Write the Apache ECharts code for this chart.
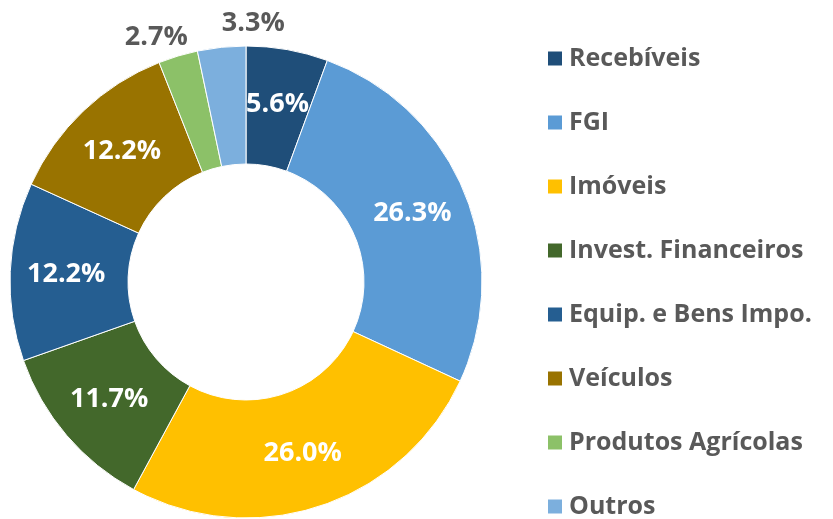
<!DOCTYPE html>
<html>
<head>
<meta charset="utf-8">
<script src="https://cdn.jsdelivr.net/npm/echarts@6/dist/echarts.min.js"></script>
<style>
  html, body { margin: 0; padding: 0; background: #fff; }
  #chart { width: 833px; height: 519px; }
</style>
</head>
<body>
<div id="chart"></div>
<script>
// categorias e participação (%)
const categories = ['Recebíveis', 'FGI', 'Imóveis', 'Invest. Financeiros', 'Equip. e Bens Impo.', 'Veículos', 'Produtos Agrícolas', 'Outros'];
const shares = [5.6, 26.3, 26.0, 11.7, 12.2, 12.2, 2.7, 3.3];
const colors = ['#1F4E79', '#5B9BD5', '#FFC000', '#43682B', '#255E91', '#997300', '#8CC168', '#7CAFDD'];

// fatias pequenas ficam com rótulo de fora
const outsideSlices = ['Produtos Agrícolas', 'Outros'];
// ajuste fino dos rótulos externos
const labelShift = { 'Produtos Agrícolas': [17, -11], 'Outros': [69, -16] };

const font = '"Open Sans", "Noto Sans", sans-serif';

const chart = echarts.init(document.getElementById('chart'));

const seriesData = categories.map((name, i) => {
  const item = { name: name, value: shares[i], itemStyle: { color: colors[i] } };
  if (outsideSlices.includes(name)) {
    item.label = { position: 'outside', color: '#595959' };
    item.labelLine = { show: false, length: 8, length2: 0 };
  }
  return item;
});

const option = {
  backgroundColor: '#fff',
  animation: false,
  legend: {
    orient: 'vertical',
    left: 546,
    top: 46,
    height: 480,
    padding: 0,
    itemWidth: 16,
    itemHeight: 16,
    itemGap: 39,
    icon: 'rect',
    data: categories,
    textStyle: {
      fontFamily: font,
      fontSize: 25,
      fontWeight: 'bold',
      color: '#595959',
      lineHeight: 24,
      padding: [0, 0, 0, 1]
    }
  },
  series: [
    {
      type: 'pie',
      center: [246, 282],
      radius: [118, 236],
      startAngle: 90,
      clockwise: true,
      avoidLabelOverlap: false,
      itemStyle: { borderColor: '#fff', borderWidth: 1 },
      label: {
        show: true,
        position: 'inside',
        fontFamily: font,
        fontSize: 27,
        fontWeight: 'bold',
        color: '#fff',
        formatter: p => p.value.toFixed(1) + '%'
      },
      labelLayout: function (params) {
        const shift = labelShift[categories[params.dataIndex]];
        if (!shift) return {};
        return { dx: shift[0], dy: shift[1] };
      },
      emphasis: { disabled: true },
      data: seriesData
    }
  ]
};

chart.setOption(option);
</script>
</body>
</html>
